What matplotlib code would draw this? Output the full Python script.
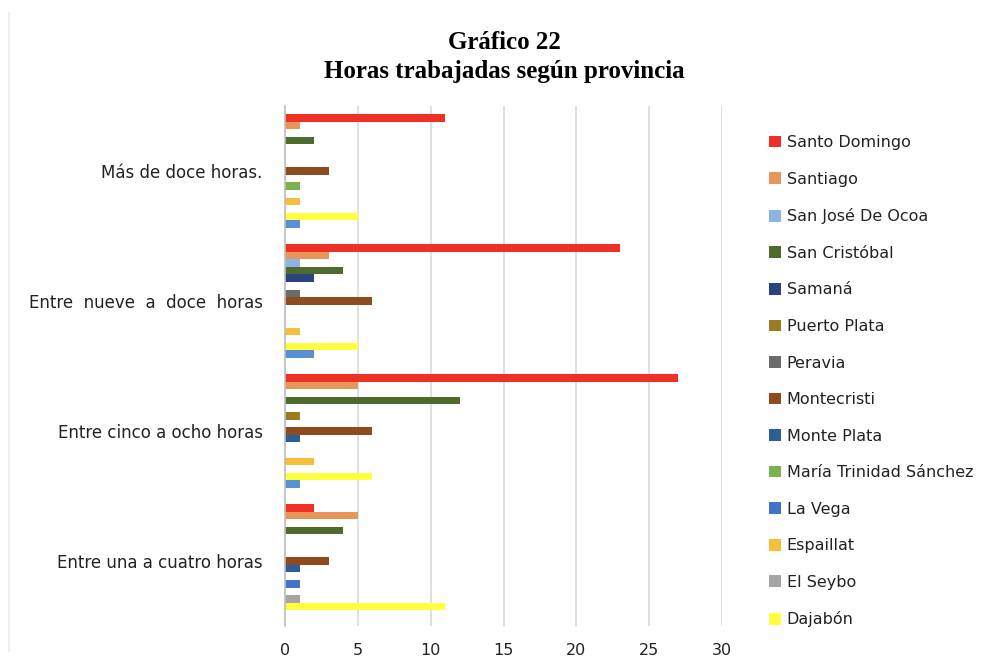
import matplotlib.pyplot as plt
import numpy as np
from matplotlib.lines import Line2D

# Categorias (de abajo hacia arriba, como en Excel)
categorias = ["Entre una a cuatro horas", "Entre cinco a ocho horas",
              "Entre  nueve  a  doce  horas", "Más de doce horas."]

# Provincias en el orden de la leyenda (la ultima serie no cabe en la leyenda)
provincias = ["Santo Domingo", "Santiago", "San José De Ocoa", "San Cristóbal",
              "Samaná", "Puerto Plata", "Peravia", "Montecristi", "Monte Plata",
              "María Trinidad Sánchez", "La Vega", "Espaillat", "El Seybo",
              "Dajabón", "_otra"]

colores = ["#EE3124", "#E8955A", "#8DB4E2", "#4E6B2E", "#2A4480", "#9C7A22",
           "#6B6B6B", "#8E4B1F", "#2F5E96", "#7BB14F", "#4472C4", "#F6BE3A",
           "#A5A5A5", "#FFFF40", "#5B8FD4"]

# valores por provincia: [una-cuatro, cinco-ocho, nueve-doce, mas de doce]
santo_domingo = [2, 27, 23, 11]
santiago = [5, 5, 3, 1]
san_jose_ocoa = [0, 0, 1, 0]
san_cristobal = [4, 12, 4, 2]
samana = [0, 0, 2, 0]
puerto_plata = [0, 1, 0, 0]
peravia = [0, 0, 1, 0]
montecristi = [3, 6, 6, 3]
monte_plata = [1, 1, 0, 0]
maria_trinidad = [0, 0, 0, 1]
la_vega = [1, 0, 0, 0]
espaillat = [0, 2, 1, 1]
el_seybo = [1, 0, 0, 0]
dajabon = [11, 6, 5, 5]
otra = [0, 1, 2, 1]

valores = [santo_domingo, santiago, san_jose_ocoa, san_cristobal, samana,
           puerto_plata, peravia, montecristi, monte_plata, maria_trinidad,
           la_vega, espaillat, el_seybo, dajabon, otra]

fuente = ["DejaVu Sans"]

fig = plt.figure(figsize=(9.97, 6.71), dpi=100)
ax = fig.add_axes([0.2859, 0.067, 0.4383, 0.775])

n = len(provincias)
paso = 0.877 / n
y = np.arange(len(categorias))
for i, (nombre, vals, col) in enumerate(zip(provincias, valores, colores)):
    # la primera serie arriba dentro de cada grupo
    desplaz = (n - 1) / 2 * paso - i * paso
    ax.barh(y + desplaz, vals, height=paso, color=col, label=nombre)

ax.set_xlim(0, 30)
ax.set_ylim(-0.5, 3.5)
ax.set_xticks(range(0, 31, 5))
ax.set_yticks(y)
ax.set_yticklabels(categorias, fontsize=12, family=fuente, color="#222222")
for t in ax.get_xticklabels():
    t.set_fontsize(11.5)
    t.set_family(fuente)
    t.set_color("#222222")
ax.tick_params(axis="y", length=0, pad=16)
ax.tick_params(axis="x", length=0, pad=12)
ax.grid(True, axis="x", color="#D9D9D9", linewidth=1.2)
ax.set_axisbelow(True)
for lado in ["top", "right", "bottom"]:
    ax.spines[lado].set_visible(False)
ax.spines["left"].set_color("#BFBFBF")
ax.spines["left"].set_linewidth(1.2)

# Leyenda sin la ultima serie (cortada en el original)
handles, labels = ax.get_legend_handles_labels()
leg = fig.legend(handles[:14], labels[:14], loc="upper left",
                 bbox_to_anchor=(0.757, 0.82), frameon=False,
                 prop={"family": fuente, "size": 11.5},
                 handlelength=0.75, handleheight=0.75, handletextpad=0.35,
                 labelspacing=1.35, labelcolor="#222222")

fig.text(0.506, 0.936, "Gráfico 22", ha="center", va="center",
         family="Liberation Serif", fontweight="bold", fontsize=18)
fig.text(0.506, 0.894, "Horas trabajadas según provincia", ha="center",
         va="center", family="Liberation Serif", fontweight="bold", fontsize=18)

# borde tenue a la izquierda
fig.add_artist(Line2D([0.009, 0.009], [0.03, 0.98], color="#F0F0F0", linewidth=1.5))

fig.savefig("out.png", dpi=100, facecolor="white")
